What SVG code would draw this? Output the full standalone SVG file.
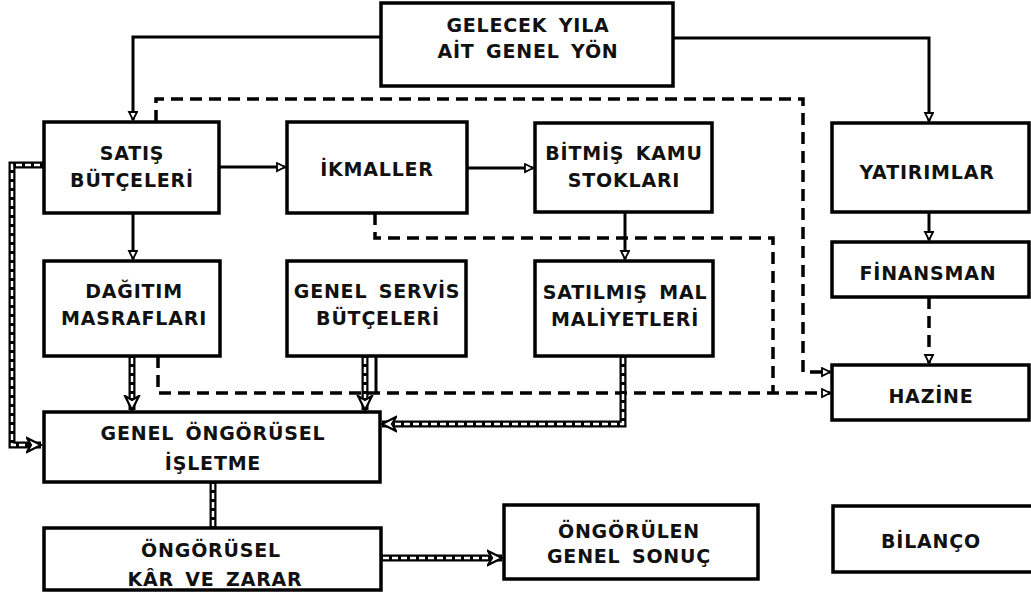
<svg xmlns="http://www.w3.org/2000/svg" width="1031" height="593" viewBox="0 0 1031 593">
<style>
.box{fill:#fff;stroke:#000;stroke-width:3.5}
.t{font-family:"DejaVu Sans","Liberation Sans",Arial,sans-serif;font-weight:bold;font-size:19px;letter-spacing:0.8px;word-spacing:4px;text-anchor:middle;fill:#111}
.solid{stroke:#000;stroke-width:3;fill:none}
.dash{stroke:#000;stroke-width:3.5;stroke-dasharray:12 7;fill:none}
.thick{stroke:#000;stroke-width:7;fill:none}
.thin{stroke:#fff;stroke-width:2.5;stroke-dasharray:6 3;fill:none}
</style>
<defs>
<marker id="a" markerUnits="userSpaceOnUse" markerWidth="12" markerHeight="12" refX="9" refY="5" orient="auto">
<path d="M1,1 L9,5 L1,9 z" fill="#fff" stroke="#000" stroke-width="1.8"/>
</marker>
<marker id="b" markerUnits="userSpaceOnUse" markerWidth="20" markerHeight="20" refX="15" refY="9" orient="auto">
<path d="M1,2 L15,9 L1,16 L5,9 z" fill="#fff" stroke="#000" stroke-width="2.2"/>
</marker>
</defs>
<rect width="1031" height="593" fill="#fff"/>
<g id="connectors">
<path class="solid" d="M381,37 H133 V120" marker-end="url(#a)"/>
<path class="solid" d="M673,38 H929 V121" marker-end="url(#a)"/>
<path class="solid" d="M219,167 H285" marker-end="url(#a)"/>
<path class="solid" d="M467,168 H533" marker-end="url(#a)"/>
<path class="solid" d="M133,213 V259" marker-end="url(#a)"/>
<path class="solid" d="M625,212 V259" marker-end="url(#a)"/>
<path class="solid" d="M929,212 V240" marker-end="url(#a)"/>
<path class="dash" d="M929,297 V363" marker-end="url(#a)"/>
<path class="dash" d="M156,122 V99 H803 V372 H830" marker-end="url(#a)"/>
<path class="dash" d="M375,213 V238 H773 V393"/>
<path class="dash" d="M158,356 V393 H830" marker-end="url(#a)"/>
<path class="solid" d="M376,356 V393"/>
<path class="thick" d="M44,165 H12 V445 H41" marker-end="url(#b)"/>
<path class="thin" d="M40,165 H12 V445 H28"/>
<path class="thick" d="M132,356 V410" marker-end="url(#b)"/>
<path class="thin" d="M132,358 V398"/>
<path class="thick" d="M365,356 V410" marker-end="url(#b)"/>
<path class="thin" d="M365,358 V398"/>
<path class="thick" d="M623,356 V424 H382" marker-end="url(#b)"/>
<path class="thin" d="M623,358 V424 H395"/>
<path class="thick" d="M213,482 V528"/>
<path class="thin" d="M213,484 V526"/>
<path class="thick" d="M381,558 H502" marker-end="url(#b)"/>
<path class="thin" d="M383,558 H488"/>
</g>
<g id="gelecek"><rect class="box" x="381" y="3" width="292" height="83"/><text class="t" x="528" y="32">GELECEK YILA</text><text class="t" x="528" y="58">AİT GENEL YÖN</text></g>
<g id="satis"><rect class="box" x="44" y="122" width="175" height="91"/><text class="t" x="132" y="160">SATIŞ</text><text class="t" x="132" y="187">BÜTÇELERİ</text></g>
<g id="ikmaller"><rect class="box" x="287" y="122" width="180" height="91"/><text class="t" x="377" y="176">İKMALLER</text></g>
<g id="bitmis"><rect class="box" x="535" y="123" width="177" height="89"/><text class="t" x="624" y="160">BİTMİŞ KAMU</text><text class="t" x="624" y="187">STOKLARI</text></g>
<g id="yatirimlar"><rect class="box" x="832" y="123" width="197" height="89"/><text class="t" x="927" y="179">YATIRIMLAR</text></g>
<g id="dagitim"><rect class="box" x="44" y="261" width="176" height="95"/><text class="t" x="134" y="298">DAĞITIM</text><text class="t" x="134" y="325">MASRAFLARI</text></g>
<g id="genelservis"><rect class="box" x="287" y="261" width="179" height="95"/><text class="t" x="377" y="298">GENEL SERVİS</text><text class="t" x="378" y="325">BÜTÇELERİ</text></g>
<g id="satilmis"><rect class="box" x="535" y="261" width="178" height="95"/><text class="t" x="625" y="299">SATILMIŞ MAL</text><text class="t" x="625" y="326">MALİYETLERİ</text></g>
<g id="finansman"><rect class="box" x="832" y="242" width="197" height="55"/><text class="t" x="928" y="280">FİNANSMAN</text></g>
<g id="hazine"><rect class="box" x="832" y="365" width="197" height="55"/><text class="t" x="931" y="403">HAZİNE</text></g>
<g id="genelongorusel"><rect class="box" x="44" y="412" width="336" height="70"/><text class="t" x="213" y="440">GENEL ÖNGÖRÜSEL</text><text class="t" x="213" y="470">İŞLETME</text></g>
<g id="ongorusel"><rect class="box" x="44" y="528" width="337" height="62"/><text class="t" x="211" y="557">ÖNGÖRÜSEL</text><text class="t" x="215" y="586">KÂR VE ZARAR</text></g>
<g id="ongorulen"><rect class="box" x="504" y="505" width="254" height="74"/><text class="t" x="629" y="538">ÖNGÖRÜLEN</text><text class="t" x="629" y="563">GENEL SONUÇ</text></g>
<g id="bilanco"><rect class="box" x="833" y="506" width="205" height="66"/><text class="t" x="931" y="548">BİLANÇO</text></g>
</svg>
